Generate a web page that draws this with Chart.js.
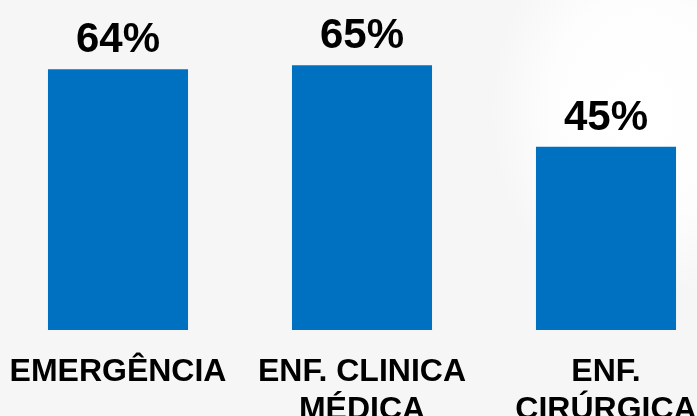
<!DOCTYPE html>
<html>
<head>
<meta charset="utf-8">
<script src="https://cdn.jsdelivr.net/npm/chart.js@4"></script>
<style>
  html, body {
    margin: 0;
    padding: 0;
    width: 697px;
    height: 416px;
    overflow: hidden;
    background: #f6f6f6;
    background-image: radial-gradient(ellipse 150px 190px at 640px 110px, #ffffff 0, #fdfdfd 60%, #f6f6f6 100%);
  }
  #chart {
    position: absolute;
    left: -4px;
    top: 0;
  }
</style>
</head>
<body>
<canvas id="chart" width="732" height="416"></canvas>
<script>
const categories = [["EMERGÊNCIA"], ["ENF. CLINICA", "MÉDICA"], ["ENF.", "CIRÚRGICA"]];
const values = [64, 65, 45];
const valueLabels = ["64%", "65%", "45%"];

const fontFamily = '"Liberation Sans", Arial, sans-serif';

// draws the percent above each bar
const valueLabelPlugin = {
  id: "valueLabels",
  afterDatasetsDraw(chart) {
    const ctx = chart.ctx;
    const meta = chart.getDatasetMeta(0);
    ctx.save();
    ctx.font = "bold 42px " + fontFamily;
    ctx.fillStyle = "#000000";
    ctx.textAlign = "center";
    ctx.textBaseline = "alphabetic";
    meta.data.forEach((bar, i) => {
      ctx.fillText(valueLabels[i], bar.x, bar.y - 17);
    });
    ctx.restore();
  },
};

const ctx = document.getElementById("chart").getContext("2d");
const myChart = new Chart(ctx, {
  type: "bar",
  data: {
    labels: categories,
    datasets: [
      {
        data: values,
        backgroundColor: "#0070C0",
        borderWidth: 0,
        categoryPercentage: 1,
        barPercentage: 0.574,
      },
    ],
  },
  options: {
    responsive: false,
    animation: false,
    devicePixelRatio: 1,
    layout: {
      padding: { top: 4, left: 0, right: 0, bottom: 0 },
    },
    plugins: {
      legend: { display: false },
      tooltip: { enabled: false },
    },
    scales: {
      x: {
        grid: { display: false, drawTicks: false },
        border: { display: false },
        ticks: {
          color: "#000000",
          padding: 24,
          autoSkip: false,
          maxRotation: 0,
          font: { family: fontFamily, size: 32, weight: "bold", lineHeight: 1.16 },
        },
        afterFit(scale) {
          scale.height = 86;
          scale.paddingLeft = 0;
          scale.paddingRight = 0;
        },
      },
      y: {
        display: false,
        min: 0,
        max: 80,
      },
    },
  },
  plugins: [valueLabelPlugin],
});
</script>
</body>
</html>
